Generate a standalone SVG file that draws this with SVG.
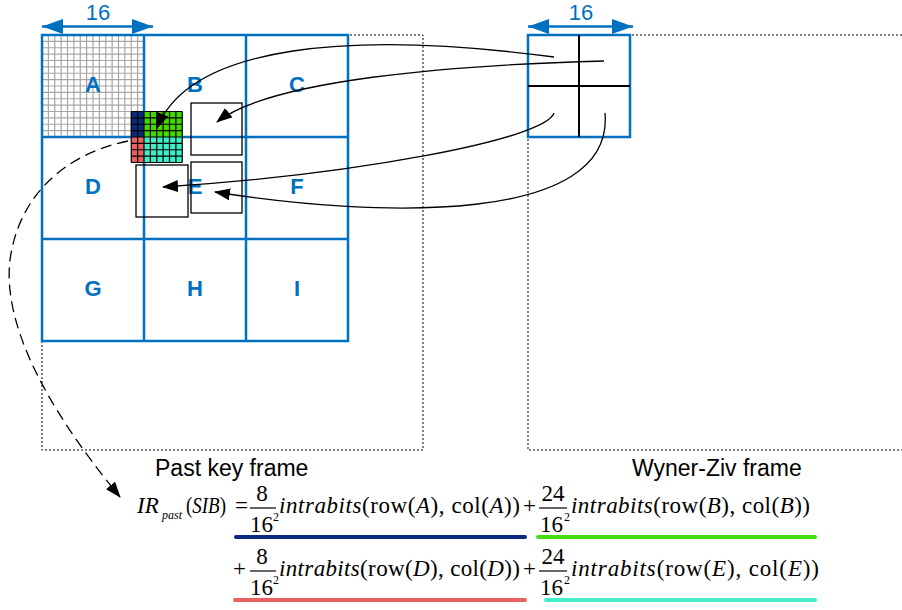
<svg xmlns="http://www.w3.org/2000/svg" width="902" height="610" viewBox="0 0 902 610">
<style>
.blue{stroke:#0070C0;stroke-width:2.5;fill:none}
.dot{stroke:#000;stroke-width:1;stroke-dasharray:2,2;fill:none}
.lbl{font-family:"Liberation Sans",Arial,sans-serif;font-weight:bold;font-size:22px;fill:#0070C0;text-anchor:middle}
.dim{font-family:"Liberation Sans",Arial,sans-serif;font-size:22px;fill:#0070C0;text-anchor:middle}
.cap{font-family:"Liberation Sans",Arial,sans-serif;font-size:23px;fill:#000}
.m{font-family:"Liberation Serif","Times New Roman",serif;font-size:23px;fill:#000}
.sm{font-family:"Liberation Serif","Times New Roman",serif;font-size:12px;fill:#000}
.i{font-style:italic}
.mid{text-anchor:middle}
.box{stroke:#000;stroke-width:1.3;fill:none}
.conn{stroke:#000;stroke-width:1.3;fill:none}
.bar{stroke:#000;stroke-width:1.2}
.ul{stroke-width:4;stroke-linecap:round;fill:none}
</style>
<defs>
<marker id="ah" viewBox="0 0 16 12" refX="15" refY="6" markerWidth="16" markerHeight="12" markerUnits="userSpaceOnUse" orient="auto">
<path d="M0,0 L16,6 L0,12 z" fill="#000"/>
</marker>
<marker id="bh" viewBox="0 0 21 15" refX="21" refY="7.5" markerWidth="21" markerHeight="15" markerUnits="userSpaceOnUse" orient="auto-start-reverse">
<path d="M0,0 L21,7.5 L0,15 z" fill="#0070C0"/>
</marker>
</defs>

<g id="past-frame">
<rect class="dot" x="42" y="35" width="381" height="415"/>
<g id="grid-A" stroke="#A6A6A6" stroke-width="1.2" fill="none">
<path d="M48.375,35V137M54.75,35V137M61.125,35V137M67.5,35V137M73.875,35V137M80.25,35V137M86.625,35V137M93,35V137M99.375,35V137M105.75,35V137M112.125,35V137M118.5,35V137M124.875,35V137M131.25,35V137M137.625,35V137"/>
<path d="M42,41.375H144M42,47.75H144M42,54.125H144M42,60.5H144M42,66.875H144M42,73.25H144M42,79.625H144M42,86H144M42,92.375H144M42,98.75H144M42,105.125H144M42,111.5H144M42,117.875H144M42,124.25H144M42,130.625H144"/>
</g>
<g id="macroblocks" class="blue">
<rect x="42" y="35" width="306" height="306"/>
<path d="M144,35V341M246,35V341M42,137H348M42,239H348"/>
</g>
<text class="lbl" x="93" y="92">A</text>
<text class="lbl" x="195" y="92">B</text>
<text class="lbl" x="297" y="92">C</text>
<text class="lbl" x="93" y="194">D</text>
<text class="lbl" x="195" y="194">E</text>
<text class="lbl" x="297" y="194">F</text>
<text class="lbl" x="93" y="296">G</text>
<text class="lbl" x="195" y="296">H</text>
<text class="lbl" x="297" y="296">I</text>
</g>

<g id="sib-block">
<rect x="131.25" y="111.5" width="12.75" height="25.5" fill="#0A2A7C"/>
<rect x="144" y="111.5" width="38.25" height="25.5" fill="#44D800"/>
<rect x="131.25" y="137" width="12.75" height="25.5" fill="#E8605C"/>
<rect x="144" y="137" width="38.25" height="25.5" fill="#3EEEC8"/>
<path stroke="#000" stroke-width="1.2" fill="none" d="M131.25,111.5V162.5M137.625,111.5V162.5M144,111.5V162.5M150.375,111.5V162.5M156.75,111.5V162.5M163.125,111.5V162.5M169.5,111.5V162.5M175.875,111.5V162.5M182.25,111.5V162.5M131.25,111.5H182.25M131.25,117.875H182.25M131.25,124.25H182.25M131.25,130.625H182.25M131.25,137H182.25M131.25,143.375H182.25M131.25,149.75H182.25M131.25,156.125H182.25M131.25,162.5H182.25"/>
</g>

<g id="ref-box-B"><rect class="box" x="191" y="103" width="51" height="52"/></g>
<g id="ref-box-E"><rect class="box" x="191" y="162" width="51" height="51"/></g>
<g id="ref-box-D"><rect class="box" x="136" y="165" width="52" height="52"/></g>

<g id="wz-frame">
<rect class="dot" x="528" y="35" width="380" height="415"/>
<rect class="blue" x="528" y="35" width="102" height="102" fill="#fff"/>
<path d="M579,35V137M528,86H630" stroke="#000" stroke-width="2" fill="none"/>
</g>

<g id="dims">
<line class="blue" x1="42" y1="26.5" x2="153" y2="26.5" marker-start="url(#bh)" marker-end="url(#bh)"/>
<text class="dim" x="98" y="20">16</text>
<line class="blue" x1="528" y1="26.5" x2="633" y2="26.5" marker-start="url(#bh)" marker-end="url(#bh)"/>
<text class="dim" x="581" y="20">16</text>
</g>

<g id="connectors">
<path class="conn" d="M554,57 C350,30 190,45 157,128" marker-end="url(#ah)"/>
<path class="conn" d="M604,61 C450,65 270,80 217,122" marker-end="url(#ah)"/>
<path class="conn" d="M554,113 C545,140 350,175 163,187" marker-end="url(#ah)"/>
<path class="conn" d="M605,113 C615,225 380,218 215,192" marker-end="url(#ah)"/>
<path class="conn" stroke-dasharray="11,6" d="M128,141 C60,155 18,200 10,260 C3,320 40,400 120,497" marker-end="url(#ah)"/>
</g>

<g id="captions">
<text class="cap" x="155" y="476">Past key frame</text>
<text class="cap" x="632" y="476">Wyner-Ziv frame</text>
</g>

<g id="equation">
<text class="m i" x="137" y="513" font-size="24">IR</text>
<text class="sm i" x="162" y="519">past</text>
<text class="m" x="186" y="513" textLength="40" lengthAdjust="spacingAndGlyphs">(<tspan class="i">SIB</tspan>)</text>
<text class="m" x="235" y="513">=</text>
<text class="m mid" x="262" y="501">8</text>
<line class="bar" x1="250" y1="508" x2="276" y2="508"/>
<text class="m" x="250" y="532">16</text>
<text class="sm" x="273" y="521">2</text>
<text class="m" x="279" y="513" textLength="241" lengthAdjust="spacing"><tspan class="i">intrabits</tspan>(row(<tspan class="i">A</tspan>), col(<tspan class="i">A</tspan>))</text>
<text class="m" x="523" y="513">+</text>
<text class="m mid" x="553" y="501">24</text>
<line class="bar" x1="539" y1="508" x2="567" y2="508"/>
<text class="m" x="540" y="532">16</text>
<text class="sm" x="564" y="521">2</text>
<text class="m" x="571" y="513" textLength="239" lengthAdjust="spacing"><tspan class="i">intrabits</tspan>(row(<tspan class="i">B</tspan>), col(<tspan class="i">B</tspan>))</text>

<text class="m" x="233" y="576">+</text>
<text class="m mid" x="262" y="564">8</text>
<line class="bar" x1="250" y1="571" x2="276" y2="571"/>
<text class="m" x="250" y="595">16</text>
<text class="sm" x="273" y="584">2</text>
<text class="m" x="279" y="576" textLength="241" lengthAdjust="spacing"><tspan class="i">intrabits</tspan>(row(<tspan class="i">D</tspan>), col(<tspan class="i">D</tspan>))</text>
<text class="m" x="523" y="576">+</text>
<text class="m mid" x="553" y="564">24</text>
<line class="bar" x1="539" y1="571" x2="567" y2="571"/>
<text class="m" x="540" y="595">16</text>
<text class="sm" x="564" y="584">2</text>
<text class="m" x="571" y="576" textLength="248" lengthAdjust="spacing"><tspan class="i">intrabits</tspan>(row(<tspan class="i">E</tspan>), col(<tspan class="i">E</tspan>))</text>

<path class="ul" stroke="#0A2A80" d="M236,537H525"/>
<path class="ul" stroke="#44DD11" d="M538,537H815"/>
<path class="ul" stroke="#E86060" d="M235,600H525"/>
<path class="ul" stroke="#40EEC8" d="M546,600H815"/>
</g>
</svg>
